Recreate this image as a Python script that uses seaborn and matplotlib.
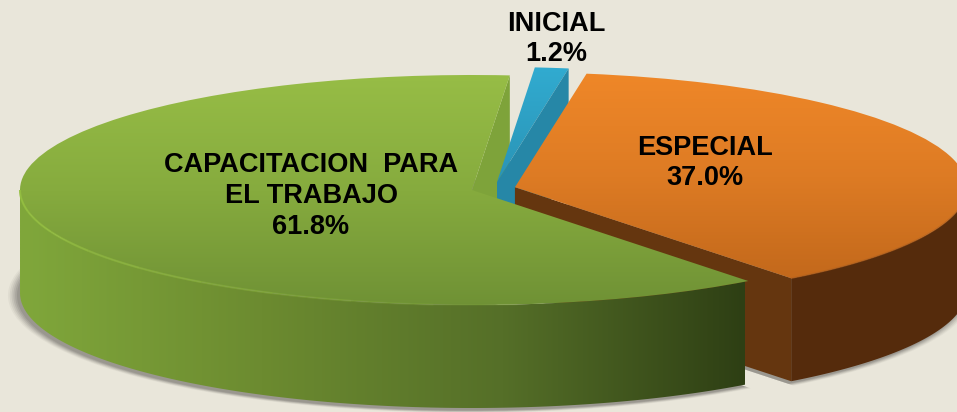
import numpy as np
import matplotlib
matplotlib.use('Agg')
import matplotlib.pyplot as plt
from matplotlib.patches import Polygon
import seaborn as sns

segments = ['CAPACITACION  PARA\nEL TRABAJO', 'ESPECIAL', 'INICIAL']
shares = [61.8, 37.0, 1.2]
label_px = [(311, 196), (705, 163), (556, 39)]

BG = '#E9E6DA'
W, H = 957, 412
CX, CY, A, B = 472, 190, 452, 115   # green pie centre and ellipse radii in pixels
DEPTH = 103 / B
START = 85.2
explode = [0, 0.098, 0.07]

sns.set_theme(style='white')
plt.rcParams['font.family'] = ['Liberation Sans', 'DejaVu Sans']


def dx(x):
    return (x - CX) / A


def dy(y):
    return (CY - y) / B


def gradient(artist, colors, lo, hi, vertical=True):
    # paint a colour ramp and clip it to the artist
    cmap = sns.blend_palette(colors, 256, as_cmap=True)
    ramp = np.linspace(0, 1, 256)
    if vertical:
        im = ax.imshow(ramp[:, None], cmap=cmap, aspect='auto', origin='upper',
                       extent=(dx(0), dx(W), dy(hi), dy(lo)), vmin=0, vmax=1,
                       interpolation='bilinear', zorder=artist.get_zorder())
    else:
        im = ax.imshow(ramp[None, :], cmap=cmap, aspect='auto',
                       extent=(dx(lo), dx(hi), dy(H), dy(0)), vmin=0, vmax=1,
                       interpolation='bilinear', zorder=artist.get_zorder())
    im.set_clip_path(artist)


def arc(center, t1, t2):
    t = np.radians(np.linspace(t1, t2, 200))
    return np.column_stack([center[0] + np.cos(t), center[1] + np.sin(t)])


def side(center, t1, t2, color, z):
    top = arc(center, t1, t2)
    low = top[::-1] - [0, DEPTH]
    poly = Polygon(np.vstack([top, low]), closed=True, fc=color, ec='none', zorder=z)
    ax.add_patch(poly)
    return poly


def cut(center, theta, color, z):
    c = np.array(center)
    p = c + [np.cos(np.radians(theta)), np.sin(np.radians(theta))]
    poly = Polygon([c, p, p - [0, DEPTH], c - [0, DEPTH]], closed=True, fc=color, ec='none', zorder=z)
    ax.add_patch(poly)
    return poly


fig = plt.figure(figsize=(W / 100, H / 100), dpi=100, facecolor=BG)
ax = fig.add_axes([0, 0, 1, 1], facecolor=BG)

# soft shadow under the pie
for r, al in zip([1.02, 1.016, 1.012, 1.008, 1.004, 1.0], [0.07, 0.1, 0.13, 0.16, 0.2, 0.24]):
    sh, _ = ax.pie(shares, startangle=START, radius=r,
                   explode=explode, center=(dx(CX - 3), -DEPTH - 2.5 / B),
                   colors=['#6E6B66'] * 3, wedgeprops=dict(linewidth=0, alpha=al, zorder=1))
    sh[2].set_visible(False)

wedges, _ = ax.pie(shares, startangle=START, explode=explode, center=(0, 0),
                   colors=['none', 'none', 'none'], wedgeprops=dict(linewidth=0))
green, orange, blue = wedges
blue.set_center((dx(497), dy(182)))

# green inner wall seen behind the blue slice
cut(green.center, green.theta1, '#7EA33A', 2)

# blue slice
blue.set_zorder(3)
gradient(blue, ['#31ABD0', '#2A93B5'], 68, 185)
cut(blue.center, blue.theta1, '#2687A7', 3.5)

# orange slice
side(orange.center, orange.theta1, 360, '#552B0C', 4)
cut(orange.center, orange.theta1, '#65360F', 4.2)
orange.set_zorder(4.5)
gradient(orange, ['#EF8728', '#DD7B24', '#C2681B'], 73, 282)

# green slice in front of everything
g_side = side(green.center, 180, green.theta2, 'none', 6)
gradient(g_side, ['#80A73B', '#6C8B30', '#556F28', '#2E3F14'], 20, 745, vertical=False)
green.set_zorder(6.5)
gradient(green, ['#97BD46', '#86AB3E', '#6F9135'], 75, 308)

# light rim along the front edge, fading towards the right
t_edges = np.linspace(180, green.theta2, 13)
for k, (t1, t2) in enumerate(zip(t_edges[:-1], t_edges[1:])):
    rim = arc(green.center, t1, t2)
    ax.plot(rim[:, 0], rim[:, 1], color='#93BE3F', lw=1.5, alpha=max(0.9 - k * 0.1, 0.0),
            zorder=7, solid_capstyle='butt')
rim = arc(orange.center, orange.theta1, 360)
ax.plot(rim[:, 0], rim[:, 1], color='#B5601A', lw=1.0, alpha=0.7, zorder=7)

for name, share, (x, y) in zip(segments, shares, label_px):
    ax.text(dx(x), dy(y), f'{name}\n{share:.1f}%', ha='center', va='center', multialignment='center',
            fontsize=19.5, fontweight='bold', color='black', linespacing=1.24, zorder=10)

ax.set_aspect('auto')
ax.set_xlim(dx(0), dx(W))
ax.set_ylim(dy(H), dy(0))
ax.set_axis_off()
fig.savefig('out.png', dpi=100, facecolor=BG)
